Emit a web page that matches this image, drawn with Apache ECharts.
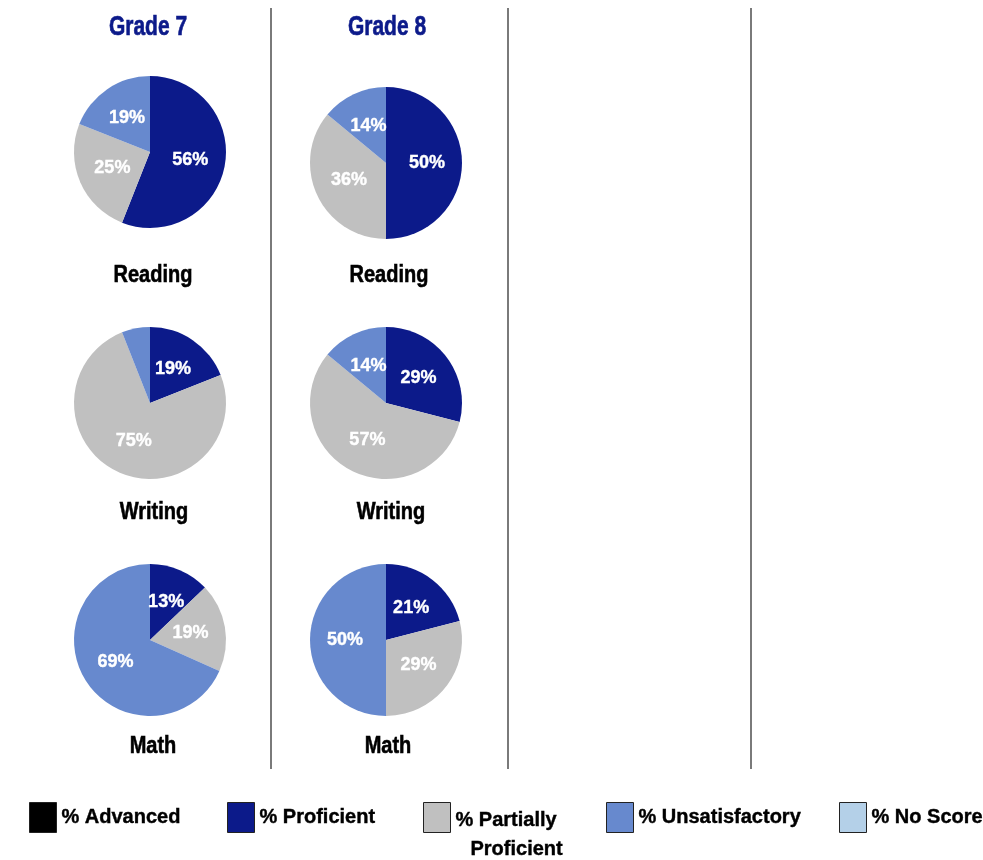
<!DOCTYPE html>
<html>
<head>
<meta charset="utf-8">
<script src="https://cdn.jsdelivr.net/npm/echarts@6/dist/echarts.min.js"></script>
<style>
  html, body { margin: 0; padding: 0; background: #fff; }
  #main { width: 983px; height: 860px; }
</style>
</head>
<body>
<div id="main"></div>
<script>
// categories in legend / slice order (clockwise from 12 o'clock)
var categories = ['% Advanced', '% Proficient', '% Partially Proficient', '% Unsatisfactory', '% No Score'];
var colors = ['#000000', '#0c1a8a', '#c0c0c0', '#6789ce', '#b4d0e8'];
var grades = ['Grade 7', 'Grade 8'];
var subjects = ['Reading', 'Writing', 'Math'];

// percent values per pie, same order as categories
var grade7Reading = [0, 56, 25, 19, 0];
var grade8Reading = [0, 50, 36, 14, 0];
var grade7Writing = [0, 19, 75, 6, 0];
var grade8Writing = [0, 29, 57, 14, 0];
var grade7Math = [0, 13, 19, 69, 0];
var grade8Math = [0, 21, 29, 50, 0];

var FONT = "'Liberation Sans', Arial, sans-serif";

var chart = echarts.init(document.getElementById('main'));

// layout of the grid of pies
var pieCenters = [
	[[150, 152], [386, 163]],
	[[150, 403], [386, 403]],
	[[150, 640], [386, 640]]
];
var pieValues = [
	[grade7Reading, grade8Reading],
	[grade7Writing, grade8Writing],
	[grade7Math, grade8Math]
];

var series = [];
for (var s = 0; s < subjects.length; s++) {
	for (var g = 0; g < grades.length; g++) {
		var vals = pieValues[s][g];
		series.push({
			name: grades[g] + ' ' + subjects[s],
			type: 'pie',
			radius: 76,
			center: pieCenters[s][g],
			startAngle: 90,
			clockwise: true,
			silent: true,
			animation: false,
			label: {
				show: true,
				position: 'inside',
				color: '#fff',
				fontSize: 18,
				fontWeight: 'bold',
				fontFamily: FONT,
				textBorderColor: '#fff',
				textBorderWidth: 0.4,
				formatter: function (p) {
					return p.value ? p.value + '%' : '';
				}
			},
			labelLine: { show: false },
			data: categories.map(function (c, i) {
				return { name: c, value: vals[i], itemStyle: { color: colors[i] } };
			})
		});
	}
}

// one legend per item so they can sit where the original put them
var legendLeft = [24, 222, 418, 601, 834];
var legends = categories.map(function (c, i) {
	var lg = {
		data: [c],
		left: legendLeft[i],
		top: 797,
		orient: 'horizontal',
		icon: 'rect',
		itemWidth: 27,
		itemHeight: 30,
		selectedMode: false,
		itemStyle: { borderColor: '#222', borderWidth: 1 },
		textStyle: {
			fontSize: 20,
			fontWeight: 'bold',
			fontFamily: FONT,
			color: '#000',
			textBorderColor: '#000',
			textBorderWidth: 0.4
		}
	};
	if (i === 2) {
		lg.formatter = function () { return '{a|% Partially}\n{b|Proficient}'; };
		lg.textStyle.padding = [34, 0, 0, 0];
		lg.textStyle.rich = {
			a: { fontSize: 20, fontWeight: 'bold', fontFamily: FONT, lineHeight: 29 },
			b: { fontSize: 20, fontWeight: 'bold', fontFamily: FONT, lineHeight: 29, padding: [0, 0, 0, 15] }
		};
	}
	return lg;
});

// column titles, subject captions and separators
var graphics = [];
function addText(txt, x, y, color, size, sy) {
	graphics.push({
		type: 'text',
		x: x,
		y: y,
		scaleY: sy,
		silent: true,
		style: {
			text: txt,
			fill: color,
			stroke: color,
			lineWidth: 0.5,
			fontSize: size,
			fontWeight: 'bold',
			fontFamily: FONT,
			textAlign: 'center',
			textVerticalAlign: 'middle'
		}
	});
}
addText('Grade 7', 148, 27, '#0c1a8a', 21, 1.35);
addText('Grade 8', 387, 27, '#0c1a8a', 21, 1.35);
var captionY = [275, 512, 746];
var captionX = [[153, 389], [154, 391], [153, 388]];
for (var k = 0; k < subjects.length; k++) {
	addText(subjects[k], captionX[k][0], captionY[k], '#000', 20, 1.2);
	addText(subjects[k], captionX[k][1], captionY[k], '#000', 20, 1.2);
}
[271, 508, 751].forEach(function (x) {
	graphics.push({
		type: 'line',
		silent: true,
		shape: { x1: x, y1: 8, x2: x, y2: 769 },
		style: { stroke: '#7a7a7a', lineWidth: 2 }
	});
});

chart.setOption({
	backgroundColor: '#fff',
	animation: false,
	legend: legends,
	series: series,
	graphic: graphics
});
</script>
</body>
</html>
